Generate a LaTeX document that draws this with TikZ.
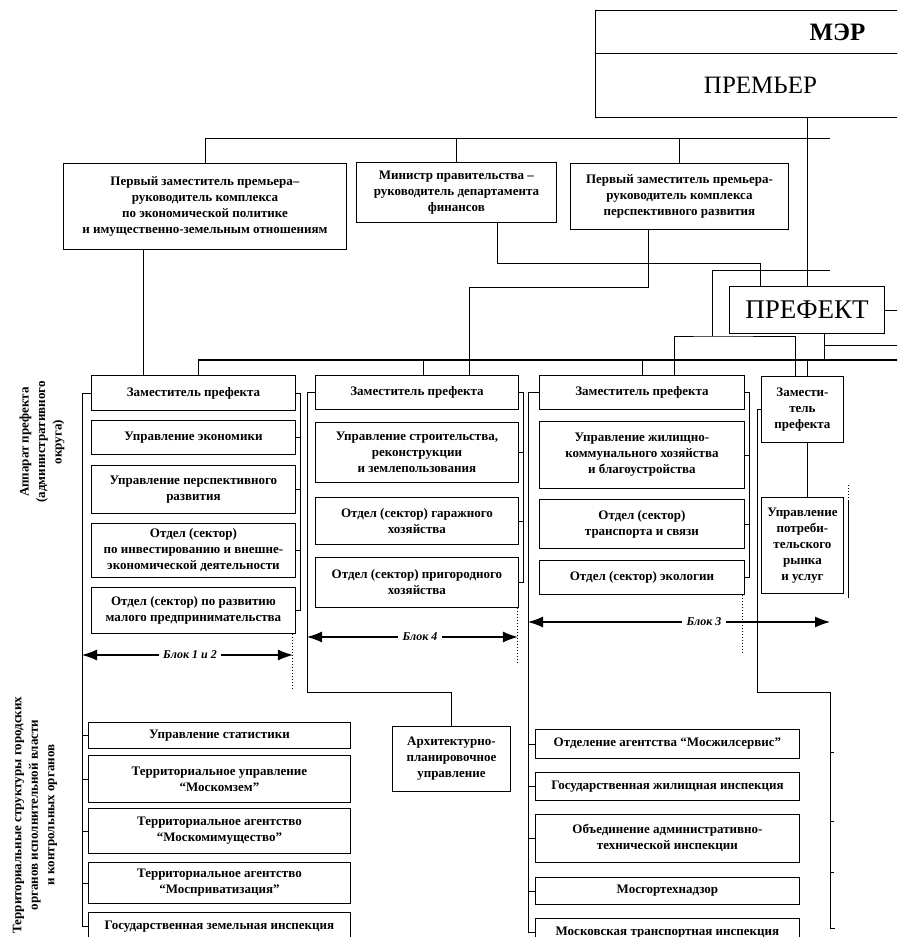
\documentclass[tikz,border=0pt]{standalone}
\usepackage{fontspec}
\setmainfont{Liberation Serif}
\usetikzlibrary{arrows.meta,calc}

\begin{document}
\begin{tikzpicture}[x=1pt,y=-1pt,line width=0.9pt,
  sz/.style 2 args={minimum width=#1pt,minimum height=#2pt},
  unit/.style={draw,anchor=north west,align=center,inner sep=1pt,
    font=\fontsize{13}{16}\selectfont\bfseries},
  head/.style={draw,anchor=north west,inner sep=0pt},
  bus/.style={line width=1.8pt},
  blockarrow/.style={-{Latex[length=15pt,width=11pt]},line width=1.1pt},
  blocklabel/.style={font=\fontsize{12}{14}\selectfont\bfseries\itshape,inner sep=4pt},
  side/.style={rotate=90,align=center,font=\fontsize{13}{16.5}\selectfont\bfseries}]

\clip (0,0) rectangle (897,937);

% Мэр и премьер.
\node[head,sz={484}{43},font=\fontsize{25}{27}\selectfont\bfseries] (mer) at (595,10) {МЭР};
\node[head,sz={330}{64},font=\fontsize{25}{28}\selectfont] (prem) at (595,53) {ПРЕМЬЕР};

% Заместители премьера и министр.
\node[unit,sz={283}{86}] (fz1) at (63,163) {Первый заместитель премьера–\\руководитель комплекса\\по экономической политике\\и имущественно-земельным отношениям};
\node[unit,sz={200}{60}] (min) at (356,162) {Министр правительства –\\руководитель департамента\\финансов};
\node[unit,sz={218}{66}] (fz2) at (570,163) {Первый заместитель премьера-\\руководитель комплекса\\перспективного развития};

% Префект.
\node[head,sz={155}{47},font=\fontsize{27}{30}\selectfont] (pref) at (729,286) {ПРЕФЕКТ};

% Блок 1 и 2.
\node[unit,sz={204}{35}] (zp1) at (91,375) {Заместитель префекта};
\node[unit,sz={204}{34}] (u1a) at (91,420) {Управление экономики};
\node[unit,sz={204}{48}] (u1b) at (91,465) {Управление перспективного\\развития};
\node[unit,sz={204}{54}] (u1c) at (91,523) {Отдел (сектор)\\по инвестированию и внешне-\\экономической деятельности};
\node[unit,sz={204}{46}] (u1d) at (91,587) {Отдел (сектор) по развитию\\малого предпринимательства};

\node[unit,sz={262}{26}] (t1) at (88,722) {Управление статистики};
\node[unit,sz={262}{47}] (t2) at (88,755) {Территориальное управление\\“Москомзем”};
\node[unit,sz={262}{45}] (t3) at (88,808) {Территориальное агентство\\“Москомимущество”};
\node[unit,sz={262}{41}] (t4) at (88,862) {Территориальное агентство\\“Мосприватизация”};
\node[unit,sz={262}{28}] (t5) at (88,912) {Государственная земельная инспекция};

% Блок 4.
\node[unit,sz={203}{34}] (zp2) at (315,375) {Заместитель префекта};
\node[unit,sz={203}{60}] (u2a) at (315,422) {Управление строительства,\\реконструкции\\и землепользования};
\node[unit,sz={203}{47}] (u2b) at (315,497) {Отдел (сектор) гаражного\\хозяйства};
\node[unit,sz={203}{50}] (u2c) at (315,557) {Отдел (сектор) пригородного\\хозяйства};
\node[unit,sz={118}{65}] (apu) at (392,726) {Архитектурно-\\планировочное\\управление};

% Блок 3.
\node[unit,sz={205}{34}] (zp3) at (539,375) {Заместитель префекта};
\node[unit,sz={205}{67}] (u3a) at (539,421) {Управление жилищно-\\коммунального хозяйства\\и благоустройства};
\node[unit,sz={205}{49}] (u3b) at (539,499) {Отдел (сектор)\\транспорта и связи};
\node[unit,sz={205}{34}] (u3c) at (539,560) {Отдел (сектор) экологии};

\node[unit,sz={264}{29}] (m1) at (535,729) {Отделение агентства “Мосжилсервис”};
\node[unit,sz={264}{28}] (m2) at (535,772) {Государственная жилищная инспекция};
\node[unit,sz={264}{48}] (m3) at (535,814) {Объединение административно-\\технической инспекции};
\node[unit,sz={264}{27}] (m4) at (535,877) {Мосгортехнадзор};
\node[unit,sz={264}{28}] (m5) at (535,918) {Московская транспортная инспекция};

% Четвёртый заместитель.
\node[unit,sz={82}{66}] (zp4) at (761,376) {Замести-\\тель\\префекта};
\node[unit,sz={82}{96}] (u4) at (761,497) {Управление\\потреби-\\тельского\\рынка\\и услуг};

% Подписи слева.
\node[side] (apl) at (42,442) {Аппарат префекта\\(административного\\округа)};
\node[side] (ter) at (35,815) {Территориальные структуры городских\\органов исполнительной власти\\и контрольных органов};

% Связи верхнего уровня.
\coordinate (topend) at (830,138);
\draw (fz1.north) |- (topend);
\draw (min.north) -- (min.north |- topend);
\draw (fz2.north) -- (fz2.north |- topend);
\draw (pref.north) -- (pref.north |- prem.south);
\draw ([xshift=-62pt]fz1.south) -- ([xshift=-62pt]fz1.south |- zp1.north);
\draw ([xshift=41pt]min.south) -- ++(0,41) -| ([xshift=31pt]pref.north west);
\draw ([xshift=-31pt]fz2.south) -- ++(0,58) -| ([xshift=52pt]zp2.north);

% Связи префекта с заместителями.
\coordinate (pj) at (712,336);
\coordinate (pe) at (830,270);
\draw (pe) -| (pj);
\draw ([xshift=32pt]zp3.north) |- (pj) -| ([xshift=-7pt]zp4.north);
\coordinate (busend) at (900,360);
\draw[bus] ([xshift=5pt]zp1.north |- busend) -- (busend);
\foreach \z/\s in {zp1/5,zp2/6,zp3/0,zp4/5}
  \draw ([xshift=\s pt]\z.north) -- ([xshift=\s pt]\z.north |- busend);
\draw ([xshift=17pt]pref.south) -- ([xshift=17pt]pref.south |- busend);
\draw ([xshift=17pt]pref.south) ++(0,12) -- ++(80,0);
\draw (pref.east) -- ++(20,0);

% Скобки блока 1 и 2.
\draw (zp1.east) -- ++(5,0) |- (u1d.east);
\foreach \b in {u1a,u1b,u1c} \draw (\b.east) -- ++(5,0);
\draw (zp1.west) -- ++(-9,0) coordinate (l1) |- (t5.west);
\foreach \b in {t1,t2,t3,t4} \draw (\b.west) -- ++(-6,0);
\coordinate (d1) at ([xshift=-3pt]u1d.south east);
\draw[dotted,line width=1pt] (d1) -- ++(0,55);
\node[blocklabel] (blk12) at (190,655) {Блок 1 и 2};
\draw[blockarrow] (blk12.west) -- (blk12.west -| l1);
\draw[blockarrow] (blk12.east) -- (blk12.east -| d1);

% Скобки блока 4.
\draw (zp2.east) -- ++(5,0) |- (u2c.east);
\foreach \b in {u2a,u2b} \draw (\b.east) -- ++(5,0);
\draw (zp2.west) -- ++(-8,0) coordinate (l2) |- ($(apu.north)+(0,-34)$) -- (apu.north);
\coordinate (d2) at ([xshift=-1pt]u2c.south east);
\draw[dotted,line width=1pt] (d2) -- ++(0,56);
\node[blocklabel] (blk4) at (420,637) {Блок 4};
\draw[blockarrow] (blk4.west) -- (blk4.west -| l2);
\draw[blockarrow] (blk4.east) -- (blk4.east -| d2);

% Скобки блока 3.
\draw (zp3.east) -- ++(5,0) |- (u3c.east);
\foreach \b in {u3a,u3b} \draw (\b.east) -- ++(5,0);
\draw (zp3.west) -- ++(-11,0) coordinate (l3) |- (m5.west);
\foreach \b in {m1,m2,m3,m4} \draw (\b.west) -- ++(-7,0);
\coordinate (d3) at ([xshift=-2pt]u3c.south east);
\draw[dotted,line width=1pt] (d3) -- ++(0,58);

% Четвёртый заместитель и его связи.
\draw ([xshift=5pt]zp4.south) -- ([xshift=5pt]u4.north);
\draw (zp4.west) -- ++(-4,0) coordinate (l4) |- (830,692) coordinate (l4r) -- (830,928) -- ++(5,0);
\foreach \y in {752,821,872} \draw (830,\y) -- ++(4,0);
\draw (848,500) -- (848,598);
\draw[dotted,line width=1pt] (848,485) -- (848,500);

\node[blocklabel] (blk3) at (704,622) {Блок 3};
\draw[blockarrow] (blk3.west) -- (blk3.west -| l3);
\draw[blockarrow] (blk3.east) -- (blk3.east -| l4r);

\end{tikzpicture}
\end{document}
